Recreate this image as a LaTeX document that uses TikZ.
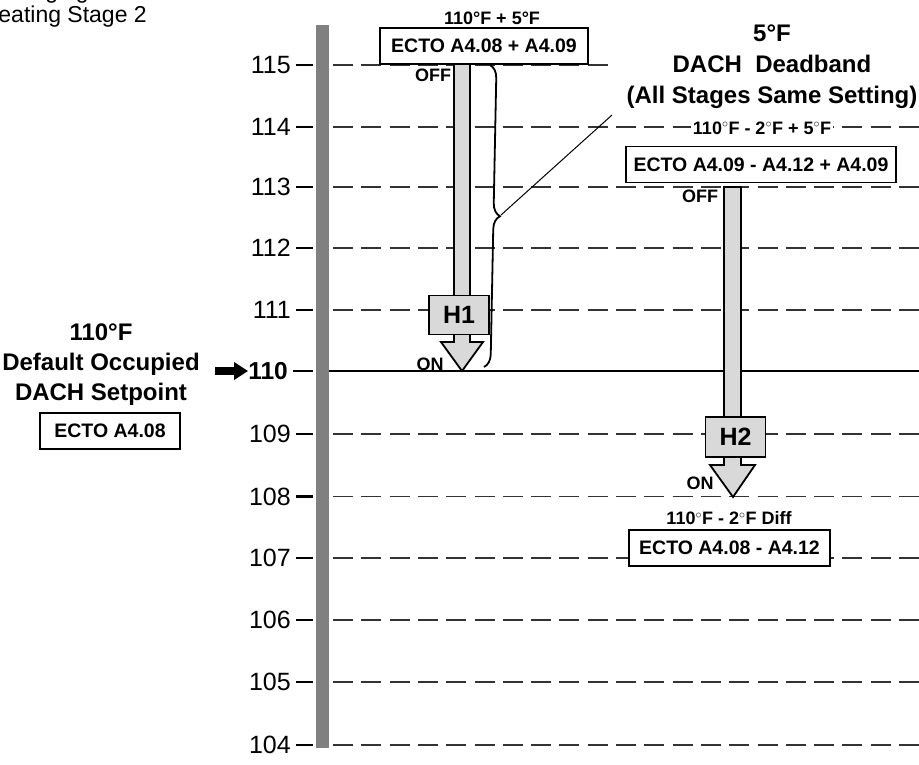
\documentclass[tikz,border=0pt]{standalone}
\usepackage{fontspec}
\setmainfont{Liberation Sans}
\usetikzlibrary{arrows.meta,decorations.pathreplacing}

\begin{document}
\begin{tikzpicture}[x=1pt, y=-1pt,
  gridline/.style={black!80, line width=1.1pt, dash pattern=on 20pt off 8.3pt},
  tickline/.style={line width=2.2pt},
  ticklabel/.style={anchor=east, inner sep=0pt, font=\fontsize{25}{30}\selectfont},
  ecto/.style={draw, line width=1.8pt, fill=white, minimum height=36pt, inner sep=0pt, font=\fontsize{19.5}{23}\selectfont\bfseries},
  note/.style={fill=white, inner sep=1.5pt, font=\fontsize{18}{21}\selectfont\bfseries},
  onoff/.style={inner sep=0pt, font=\fontsize{18}{21}\selectfont\bfseries},
  stagearrow/.style={draw, line width=1.8pt, fill=gray!30},
  stagebox/.style={draw, line width=1.8pt, fill=gray!30, inner sep=0pt, minimum width=60pt, minimum height=39pt, font=\fontsize{25}{30}\selectfont\bfseries},
  title/.style={align=center, inner sep=0pt, font=\fontsize{24}{31}\selectfont\bfseries},
]
  \useasboundingbox (0,0) rectangle (919,764);

  % Header (cut off)
  \node[anchor=base west, inner sep=0pt, font=\fontsize{23}{27}\selectfont] (hdr1) at (-61,-2) {DACH Staging};
  \node[anchor=base east, inner sep=0pt, font=\fontsize{23}{27}\selectfont] (hdr2) at (147,22) {Heating Stage 2};

  % Scale
  \foreach \t/\y/\e in {115/65/610,114/127/919,113/187/919,112/248/919,111/310/919,109/434/919,108/496.5/919,107/558/919,106/620/919,105/682/919,104/745/919}{
    \draw[gridline] (333,\y) -- (\e,\y);
    \draw[tickline] (296,\y) -- (313,\y);
    \node[ticklabel] (t\t) at (291,\y) {\t};
  }
  \draw[line width=2pt] (329,371) -- (919,371);
  \draw[tickline] (293,371) -- (313,371);
  \node[ticklabel, font=\fontsize{24.5}{30}\selectfont\bfseries] (t110) at (288,371) {110};
  \fill[gray] (316,25) rectangle (329,748);

  % Setpoint
  \node[title, font=\fontsize{24}{30}\selectfont\bfseries] (setpt) at (101,365) {110°F\\Default Occupied\\DACH Setpoint};
  \node[ecto, minimum width=140pt] (ecto0) at (110,431) {ECTO A4.08};
  \coordinate (setarrow) at (215,371);
  \draw[line width=8pt, -{Triangle[length=14pt, width=17pt]}] (setarrow) -- (t110.west);

  % Stage 1
  \draw[stagearrow] (454,64) -- (454,342) -- (441,342) -- (462,371) -- (483,342) -- (470,342) -- (470,64) -- cycle;
  \node[stagebox] (h1) at (459,315) {H1};
  \node[note] (off1) at (492,18) {110°F + 5°F};
  \node[ecto, minimum width=208pt] (ecto1) at (484,46) {ECTO A4.08 + A4.09};
  \node[onoff] (offh1) at (433,75) {OFF};
  \node[onoff] (onh1) at (430,364) {ON};

  % Deadband
  \draw[line width=1.8pt, decorate, decoration={brace, amplitude=13pt}] (490,65) -- (484,367);
  \coordinate (bracetip) at (501,215);
  \node[title] (deadband) at (772,67) {5°F\\DACH\ \ Deadband\\(All Stages Same Setting)};
  \coordinate (dbnote) at (612,115);
  \draw[line width=1pt] (bracetip) -- (dbnote);

  % Stage 2
  \draw[stagearrow] (724,187) -- (724,465) -- (710,465) -- (733,497) -- (755,465) -- (741,465) -- (741,187) -- cycle;
  \node[stagebox, minimum height=40pt] (h2) at (735.5,437) {H2};
  \node[note] (off2) at (762,128) {110$^{\circ}$F - 2$^{\circ}$F + 5$^{\circ}$F};
  \node[ecto, minimum width=270pt] (ecto2) at (761,164.5) {ECTO A4.09 - A4.12 + A4.09};
  \node[onoff] (offh2) at (700,196) {OFF};
  \node[onoff] (onh2) at (700,483) {ON};
  \node[note] (on2) at (729,518) {110$^{\circ}$F - 2$^{\circ}$F Diff};
  \node[ecto, minimum width=201pt] (ecto3) at (729.5,548) {ECTO A4.08 - A4.12};
\end{tikzpicture}
\end{document}
